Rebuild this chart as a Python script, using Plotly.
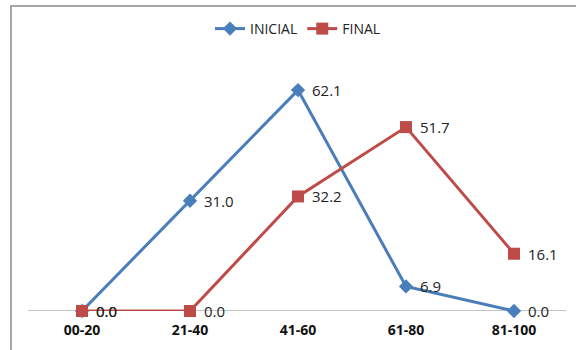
import plotly.graph_objects as go

categories = ["00-20", "21-40", "41-60", "61-80", "81-100"]
inicial = [0.0, 31.0, 62.1, 6.9, 0.0]
final = [0.0, 0.0, 32.2, 51.7, 16.1]

BLUE = "#4a7ebb"
RED = "#be4b48"
FONT = "Open Sans, sans-serif"

fig = go.Figure()
fig.add_trace(go.Scatter(
    x=categories, y=inicial, name="INICIAL", mode="lines+markers",
    line=dict(color=BLUE, width=3),
    marker=dict(symbol="diamond", size=11, color=BLUE),
    cliponaxis=False,
))
fig.add_trace(go.Scatter(
    x=categories, y=final, name="FINAL", mode="lines+markers",
    line=dict(color=RED, width=3),
    marker=dict(symbol="square", size=12, color=RED),
    cliponaxis=False,
))

# value labels to the right of each point
for series in (inicial, final):
    for cat, v in zip(categories, series):
        fig.add_annotation(x=cat, y=v, text=f"{v:.1f}", showarrow=False,
                           xanchor="left", yanchor="middle", xshift=12,
                           font=dict(family=FONT, size=15, color="#222"))

L, R, T, B = 28, 8, 62, 39
W, H = 576, 350
pw, ph = W - L - R, H - T - B

def px(x):
    return (x - L) / pw

def py(y):
    return (H - B - y) / ph

# chart frame
fig.add_shape(type="rect", xref="paper", yref="paper",
              x0=px(11), x1=px(590), y0=py(370), y1=py(6),
              line=dict(color="#8a8a8a", width=1.5), layer="below")

fig.update_layout(
    width=W, height=H,
    margin=dict(l=L, r=R, t=T, b=B),
    paper_bgcolor="white", plot_bgcolor="white",
    showlegend=True,
    legend=dict(orientation="h", x=0.5, xanchor="center", y=py(29), yanchor="middle",
                font=dict(family=FONT, size=14, color="#222"),
                itemwidth=30, tracegroupgap=0),
    xaxis=dict(type="category", range=[-0.5, 4.5], showgrid=False,
               showline=False, zeroline=False, ticks="", ticklabelstandoff=9,
               tickfont=dict(family=FONT, size=14, color="#111", weight="bold")),
    yaxis=dict(range=[0, 70], visible=False, showgrid=False, zeroline=False),
)
# horizontal axis line at zero
fig.add_shape(type="line", xref="paper", yref="y", x0=0, x1=px(566), y0=0, y1=0,
              line=dict(color="#8c8c8c", width=1.2), layer="below")

fig.write_html("out.html")
